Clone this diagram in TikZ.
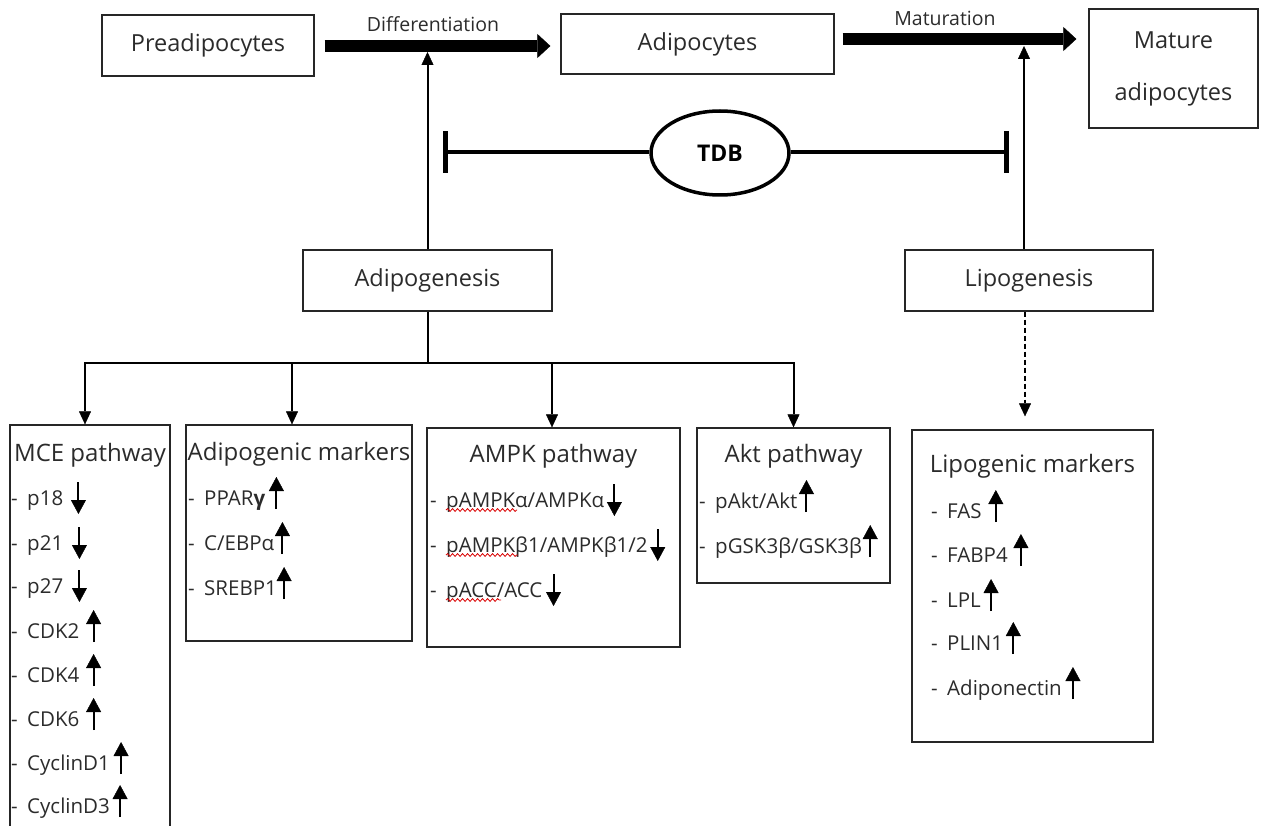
\documentclass[tikz,border=0pt]{standalone}
\usepackage{fontspec}
\setmainfont{Open Sans}
\usetikzlibrary{arrows.meta,shapes.geometric,calc,decorations.pathmorphing}
\definecolor{txt}{gray}{0.17}
% "-" bullet followed by a fixed gap
\newcommand\itemdash{-\hspace{0.46em}}
% small up / down marks placed after an item node (gap = stem offset from text end)
\newcommand\upby[2]{\draw[updown] ($(#1.base east)+(#2,4)$) -- ($(#1.base east)+(#2,-28)$);}
\newcommand\downby[2]{\draw[updown] ($(#1.base east)+(#2,-23)$) -- ($(#1.base east)+(#2,9)$);}
\begin{document}
\begin{tikzpicture}[x=1pt,y=-1pt,
  pbox/.style={draw=black!85, line width=1.3pt, rectangle, inner sep=0pt},
  bigtxt/.style={font=\fontsize{23.5}{28}\selectfont, text=txt},
  lbl/.style={font=\fontsize{19.5}{24}\selectfont, text=txt, inner sep=0pt, anchor=base},
  ttl/.style={font=\fontsize{24}{28}\selectfont, text=txt, inner sep=0pt, anchor=base},
  itm/.style={font=\fontsize{20.5}{24}\selectfont, text=txt, inner sep=0pt, anchor=base west},
  fat/.style={line width=12pt, -{Triangle[width=24pt,length=13pt,line width=0.4pt]}},
  act/.style={line width=2pt, -{Triangle[width=12pt,length=13pt,line width=0.4pt]}},
  branch/.style={line width=2pt},
  inhib/.style={line width=3.5pt, -{Bar[width=42pt,line width=5pt]}},
  updown/.style={line width=2pt, -{Triangle[width=15pt,length=14pt,line width=0.4pt]}},
  spell/.style={draw=red!85!black, line width=0.8pt, decorate,
    decoration={snake, segment length=5pt, amplitude=1.4pt}},
]
\useasboundingbox (0,0) rectangle (1265,826);

% ---- cell stages ----
\node[pbox, bigtxt, minimum width=212pt, minimum height=61pt] (pre) at (208,45.5) {Preadipocytes};
\node[pbox, bigtxt, minimum width=273pt, minimum height=60pt] (adi) at (697.5,44) {Adipocytes};
\node[pbox, text=txt, minimum width=169pt, minimum height=119pt, align=center,
      font=\fontsize{23.5}{52}\selectfont] (mat) at (1173.5,68.5) {Mature\\adipocytes};

\draw[fat] ($(pre.east)+(10,0.5)$) -- ($(adi.west |- pre.east)+(-10,0.5)$);
\draw[fat] ($(adi.east)+(8,-5)$) -- ($(mat.west |- adi.east)+(-12,-5)$);
\node[lbl] (dlab) at (433,32) {Differentiation};
\node[lbl] (mlab) at (945,26) {Maturation};

% ---- TDB and its inhibition ----
\node[ellipse, draw, line width=3.5pt, minimum width=138pt, minimum height=84pt, inner sep=0pt,
      font=\bfseries\fontsize{23}{26}\selectfont] (tdb) at (720,153) {TDB};
\coordinate (barL) at (443,152);
\coordinate (barR) at (1009,152);
\draw[inhib] (tdb.west |- barL) -- (barL);
\draw[inhib] (tdb.east |- barR) -- (barR);

% ---- processes ----
\node[pbox, bigtxt, minimum width=249pt, minimum height=61pt] (adg) at (427.5,280.5) {Adipogenesis};
\node[pbox, bigtxt, minimum width=248pt, minimum height=61pt] (lip) at (1029,280.5) {Lipogenesis};

\coordinate (dhit) at (adg.north |- 0,52);
\coordinate (mhit) at ($(lip.north |- 0,46)+(-5,0)$);
\draw[act] (adg.north) -- (dhit);
\draw[act] ($(lip.north)+(-5,0)$) -- (mhit);

% ---- pathway boxes ----
\node[pbox, minimum width=160pt, minimum height=405pt] (mce) at (90,627.5) {};
\node[pbox, minimum width=226pt, minimum height=216pt] (adm) at (299,533) {};
\node[pbox, minimum width=253pt, minimum height=219pt] (ampk) at (553.5,537.5) {};
\node[pbox, minimum width=193pt, minimum height=155pt] (akt) at (793.5,505.5) {};
\node[pbox, minimum width=241pt, minimum height=312pt] (lpm) at (1032.5,586) {};

% branching tree below Adipogenesis
\coordinate (hub) at (adg.south |- 0,363);
\draw[branch] (adg.south) -- (hub);
\draw[act] (hub) -| ($(mce.north)+(-5,0)$);
\draw[act] (hub) -| ($(adm.north)+(-7,0)$);
\draw[act] (hub) -| ($(ampk.north)+(-1.5,0)$);
\draw[act] (hub) -| (akt.north);
\draw[act, dash pattern=on 5pt off 3pt] ($(lip.south)+(-4,0)$) -- ($(lip.south |- lpm.north)+(-4,-13)$);

% titles
\node[ttl] (mcet) at (mce |- 0,461) {MCE pathway};
\node[ttl] (admt) at (adm |- 0,460) {Adipogenic markers};
\node[ttl] (ampkt) at (ampk |- 0,462) {AMPK pathway};
\node[ttl] (aktt) at (akt |- 0,462) {Akt pathway};
\node[ttl] (lpmt) at (lpm |- 0,472) {Lipogenic markers};

% MCE pathway items
\node[itm] (m1) at (11,505) {\itemdash p18};
\node[itm] (m2) at (11,550) {\itemdash p21};
\node[itm] (m3) at (11,593) {\itemdash p27};
\node[itm] (m4) at (11,638) {\itemdash CDK2};
\node[itm] (m5) at (11,682) {\itemdash CDK4};
\node[itm] (m6) at (11,726) {\itemdash CDK6};
\node[itm] (m7) at (11,770) {\itemdash CyclinD1};
\node[itm] (m8) at (11,813) {\itemdash CyclinD3};
\downby{m1}{15} \downby{m2}{16} \downby{m3}{16}
\upby{m4}{14} \upby{m5}{14} \upby{m6}{14} \upby{m7}{11} \upby{m8}{10}

% adipogenic markers
\node[itm] (a1) at (188,505) {\itemdash PPAR\textbf{γ}};
\node[itm] (a2) at (188,550) {\itemdash C/EBPα};
\node[itm] (a3) at (188,595) {\itemdash SREBP1};
\upby{a1}{11} \upby{a2}{8} \upby{a3}{7}

% AMPK pathway
\node[itm] (p1) at (430,507) {\itemdash pAMPKα/AMPKα};
\node[itm] (p2) at (430,552) {\itemdash pAMPKβ1/AMPKβ1/2};
\node[itm] (p3) at (430,597) {\itemdash pACC/ACC};
\downby{p1}{10} \downby{p2}{10} \downby{p3}{11}
\draw[spell] ($(p1.base west)+(16,3)$) -- ++(71,0);
\draw[spell] ($(p2.base west)+(16,3)$) -- ++(72,0);
\draw[spell] ($(p3.base west)+(16,3)$) -- ++(55,0);

% Akt pathway
\node[itm] (k1) at (699,508) {\itemdash pAkt/Akt};
\node[itm] (k2) at (699,553) {\itemdash pGSK3β/GSK3β};
\upby{k1}{9} \upby{k2}{8}

% lipogenic markers
\node[itm] (l1) at (931,518) {\itemdash FAS};
\node[itm] (l2) at (931,562) {\itemdash FABP4};
\node[itm] (l3) at (931,607) {\itemdash LPL};
\node[itm] (l4) at (931,650) {\itemdash PLIN1};
\node[itm] (l5) at (931,695) {\itemdash Adiponectin};
\upby{l1}{14} \upby{l2}{13} \upby{l3}{10} \upby{l4}{10} \upby{l5}{11}
\end{tikzpicture}
\end{document}
